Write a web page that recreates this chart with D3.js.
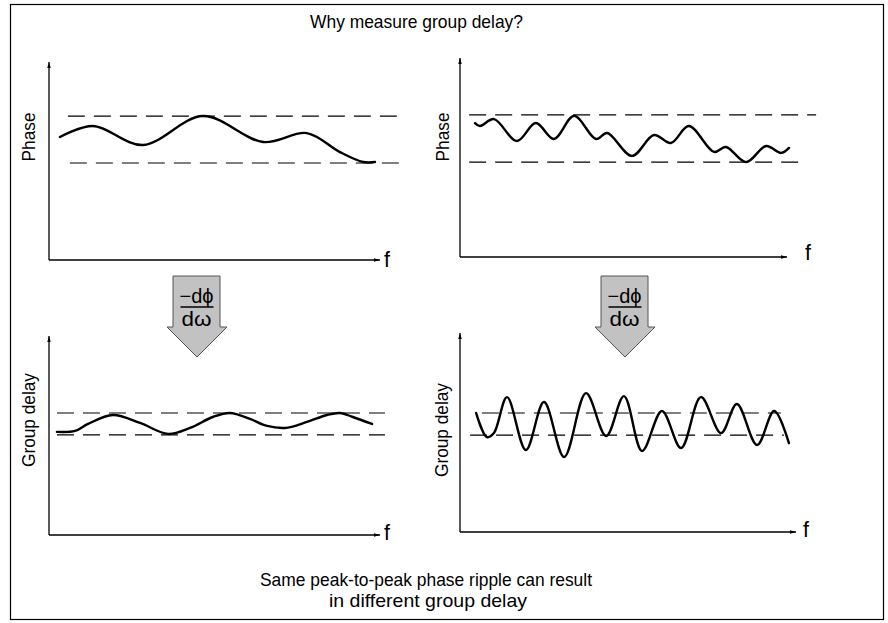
<!DOCTYPE html>
<html><head><meta charset="utf-8">
<script src="https://cdn.jsdelivr.net/npm/d3@7"></script>
<style>
html,body{margin:0;padding:0;background:#fff;}
svg{display:block;font-family:"Liberation Sans",Arial,Helvetica,sans-serif;}
</style></head>
<body>
<svg id="c" width="888" height="623"></svg>
<script>
// ---------- DATA (frequency 0..100, value 0..100) ----------
const titleText = "Why measure group delay?";
const captionLines = ["Same peak-to-peak phase ripple can result", "in different group delay"];
const axisLabels = ["Phase", "Phase", "Group delay", "Group delay"];
const freqLabel = "f";

const phaseSlow = [[3.3,62.1],[13.3,67.7],[28.4,58.1],[46.5,72.7],[64.7,59.6],[77.9,64.1],[87.9,54.5],[94.9,49.5],[98.5,49.5]];
const phaseFast = [[4.6,67.3],[6.1,65.8],[10.4,69.3],[17.4,58.3],[23.2,67.3],[28.7,59.3],[34.9,70.9],[41.6,59.3],[45.0,62.3],[52.6,50.8],[59.3,61.3],[64.5,57.3],[70.0,65.8],[77.7,52.8],[81.3,55.3],[87.5,47.7],[93.6,55.8],[98.2,52.3],[100.6,54.8]];
const delaySlow = [[2.4,51.8],[7.9,52.3],[11.8,55.8],[19.3,60.3],[27.5,56.3],[36.0,50.8],[42.6,53.8],[49.5,59.3],[54.7,61.3],[60.7,58.3],[65.9,54.8],[71.3,53.8],[77.9,56.8],[84.0,60.3],[87.9,61.3],[91.8,59.3],[97.6,55.8]];
const delayFast = [[4.8,59.8],[8.0,47.7],[10.1,49.7],[14.0,67.8],[19.6,41.2],[25.0,65.3],[31.0,37.7],[37.5,69.8],[43.5,48.2],[48.8,68.3],[54.2,40.7],[60.1,60.8],[65.8,42.2],[71.7,67.8],[77.7,49.7],[82.4,64.3],[88.4,43.7],[93.5,60.8],[97.9,44.7]];

const limitsPhaseSlow = [72.7, 49.0];
const limitsPhaseFast = [71.4, 47.7];
const limitsDelaySlow = [61.3, 50.3];
const limitsDelayFast = [59.8, 48.7];

const derivNum = "\u2212d\u03D5";
const derivDen = "d\u03C9";

// ---------- LAYOUT ----------
const panels = [
  {data: phaseSlow, lim: limitsPhaseSlow, label: axisLabels[0], x0:49, x1:380, yb:260, yt:62, lx:35, ly:137, len:49, dash:[[5.7,107],[6.3,107]], fx:384, fy:267},
  {data: phaseFast, lim: limitsPhaseFast, label: axisLabels[1], x0:460, x1:787, yb:257, yt:58, lx:449, ly:137, len:49, dash:[[2.8,108.9],[2.8,105.2]], fx:805, fy:260},
  {data: delaySlow, lim: limitsDelaySlow, label: axisLabels[2], x0:49, x1:380, yb:535, yt:336, lx:35, ly:420, len:94, dash:[[2.4,101.5],[2.4,101.5]], fx:384, fy:540},
  {data: delayFast, lim: limitsDelayFast, label: axisLabels[3], x0:460, x1:796, yb:532, yt:333, lx:448, ly:430, len:94, dash:[[6.5,95.5],[3.0,96.4]], fx:803, fy:537}
];
const arrows = [
  {rx0:173, rx1:220, top:276, hx0:167, hx1:227, hy:327, tip:357, tx:197},
  {rx0:601, rx1:648, top:276, hx0:595, hx1:655, hy:327, tip:357, tx:625}
];

const svg = d3.select("#c");
svg.append("defs").append("marker")
  .attr("id","ah").attr("viewBox","0 0 12 10").attr("refX",12).attr("refY",5)
  .attr("markerWidth",12).attr("markerHeight",5).attr("markerUnits","userSpaceOnUse")
  .attr("orient","auto")
  .append("path").attr("d","M0,1.5 L12,5 L0,8.5 Z").attr("fill","#000");

// frame
svg.append("rect").attr("x",10.5).attr("y",4.5).attr("width",873).attr("height",615)
  .attr("fill","none").attr("stroke","#000").attr("stroke-width",1.2);

// title
svg.append("text").attr("x",416.5).attr("y",28).attr("text-anchor","middle")
  .attr("font-size",19).attr("textLength",213).attr("lengthAdjust","spacingAndGlyphs").text(titleText);

// caption
const capLens = [332, 198];
svg.selectAll("text.cap").data(captionLines).enter().append("text").attr("class","cap")
  .attr("x",(d,i)=>i===0?426:428).attr("y",(d,i)=>586+i*21).attr("text-anchor","middle")
  .attr("font-size",19).attr("textLength",(d,i)=>capLens[i]).attr("lengthAdjust","spacingAndGlyphs").text(d=>d);

panels.forEach(p => {
  const x = d3.scaleLinear().domain([0,100]).range([p.x0,p.x1]);
  const y = d3.scaleLinear().domain([0,100]).range([p.yb,p.yt]);
  const g = svg.append("g");
  // axes
  g.append("line").attr("x1",x(0)).attr("y1",y(0)).attr("x2",x(100)).attr("y2",y(0))
    .attr("stroke","#000").attr("stroke-width",1.3).attr("marker-end","url(#ah)");
  g.append("line").attr("x1",x(0)).attr("y1",y(0)).attr("x2",x(0)).attr("y2",y(100))
    .attr("stroke","#000").attr("stroke-width",1.3).attr("marker-end","url(#ah)");
  // limit dashes
  p.lim.forEach((v,i) => {
    g.append("line").attr("x1",x(p.dash[i][0])).attr("x2",x(p.dash[i][1]))
      .attr("y1",y(v)).attr("y2",y(v))
      .attr("stroke","#000").attr("stroke-width",1.2).attr("stroke-dasharray","17,9");
  });
  // curve
  const line = d3.line().x(d=>x(d[0])).y(d=>y(d[1])).curve(d3.curveCatmullRom.alpha(0.5));
  g.append("path").attr("d",line(p.data)).attr("fill","none").attr("stroke","#000")
    .attr("stroke-width",2.4).attr("stroke-linejoin","round").attr("stroke-linecap","round");
  // labels
  g.append("text").attr("transform",`translate(${p.lx},${p.ly}) rotate(-90)`)
    .attr("text-anchor","middle").attr("font-size",19)
    .attr("textLength",p.len).attr("lengthAdjust","spacingAndGlyphs").text(p.label);
  g.append("text").attr("x",p.fx).attr("y",p.fy).attr("font-size",22)
    .attr("textLength",6).attr("lengthAdjust","spacingAndGlyphs").text(freqLabel);
});

arrows.forEach(a => {
  const pts = [[a.rx0,a.top],[a.rx1,a.top],[a.rx1,a.hy],[a.hx1,a.hy],[a.tx,a.tip],[a.hx0,a.hy],[a.rx0,a.hy]];
  svg.append("polygon").attr("points",pts.map(q=>q.join(",")).join(" "))
    .attr("fill","#c2c2c2").attr("stroke","#555").attr("stroke-width",1);
  const cx = (a.rx0+a.rx1)/2;
  svg.append("text").attr("x",cx).attr("y",303).attr("text-anchor","middle").attr("font-size",20)
    .attr("textLength",34).attr("lengthAdjust","spacingAndGlyphs").text(derivNum);
  svg.append("line").attr("x1",cx-16).attr("x2",cx+17).attr("y1",307).attr("y2",307).attr("stroke","#000").attr("stroke-width",1.3);
  svg.append("text").attr("x",cx).attr("y",326).attr("text-anchor","middle").attr("font-size",20)
    .attr("textLength",30).attr("lengthAdjust","spacingAndGlyphs").text(derivDen);
});
</script>
</body></html>
